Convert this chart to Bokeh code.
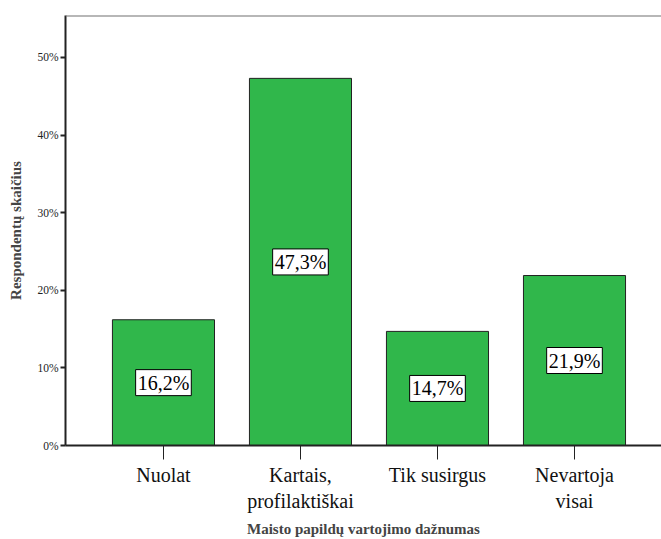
from bokeh.plotting import figure
from bokeh.models import (ColumnDataSource, FixedTicker, Label, Span, Range1d, CustomJSTickFormatter)
from bokeh.embed import file_html
from bokeh.resources import INLINE

categories = ["Nuolat", "Kartais,\nprofilaktiškai", "Tik susirgus", "Nevartoja\nvisai"]
values = [16.2, 47.3, 14.7, 21.9]
value_labels = ["16,2%", "47,3%", "14,7%", "21,9%"]
y_ticks = [0, 10, 20, 30, 40, 50]

FONT = "Liberation Serif"

xs = list(range(len(categories)))
src = ColumnDataSource(dict(x=xs, top=values))

p = figure(width=661, height=539,
           output_backend="svg", toolbar_location=None,
           x_range=Range1d(-0.715, 3.635), y_range=Range1d(0, 55.4),
           min_border_left=65, min_border_right=0, min_border_top=15, min_border_bottom=92)
p.outline_line_color = None
p.grid.visible = False
p.background_fill_color = "white"

p.vbar(x="x", top="top", width=0.745, bottom=0, source=src,
       fill_color="#30b74b", line_color="#222222", line_width=1)

for xi, v, t in zip(xs, values, value_labels):
    p.add_layout(Label(x=xi, y=v / 2, text=t,
                       text_align="center", text_baseline="middle",
                       text_font=FONT, text_font_size="20px", text_color="black",
                       background_fill_color="white", border_line_color="black",
                       border_line_width=1, padding=2))

top_line = Span(location=55.4, dimension="width", line_color="#707070", line_width=2)
p.add_layout(top_line)

# y axis
p.yaxis.ticker = FixedTicker(ticks=y_ticks)
p.yaxis.formatter = CustomJSTickFormatter(code="return tick + '%';")
p.yaxis.major_label_text_font = FONT
p.yaxis.major_label_text_font_size = "11.5px"
p.yaxis.major_label_text_color = "#222222"
p.yaxis.minor_tick_line_color = None
p.yaxis.major_tick_out = 5
p.yaxis.major_tick_in = 0
p.yaxis.major_tick_line_width = 2
p.yaxis.axis_line_width = 2
p.yaxis.axis_line_color = "#222222"
p.yaxis.major_tick_line_color = "#222222"
p.yaxis.major_label_standoff = 2
p.yaxis.axis_label = "Respondentų skaičius"
p.yaxis.axis_label_text_font = FONT
p.yaxis.axis_label_text_font_style = "bold"
p.yaxis.axis_label_text_font_size = "15px"
p.yaxis.axis_label_standoff = 10

# x axis
p.xaxis.ticker = FixedTicker(ticks=xs)
p.xaxis.major_label_overrides = {i: c for i, c in zip(xs, categories)}
p.xaxis.major_label_text_font = FONT
p.xaxis.major_label_text_font_size = "20px"
p.xaxis.major_label_text_color = "#111111"
p.xaxis.minor_tick_line_color = None
p.xaxis.major_tick_out = 14
p.xaxis.major_tick_in = 0
p.xaxis.major_tick_line_color = "#222222"
p.xaxis.axis_line_width = 2
p.xaxis.axis_line_color = "#222222"
p.xaxis.major_label_standoff = 4
p.xaxis.axis_label = "Maisto papildų vartojimo dažnumas"
p.xaxis.axis_label_text_font = FONT
p.xaxis.axis_label_text_font_style = "bold"
p.xaxis.axis_label_text_font_size = "15px"
p.xaxis.axis_label_standoff = 6

open("out.html", "w").write(file_html(p, INLINE))
